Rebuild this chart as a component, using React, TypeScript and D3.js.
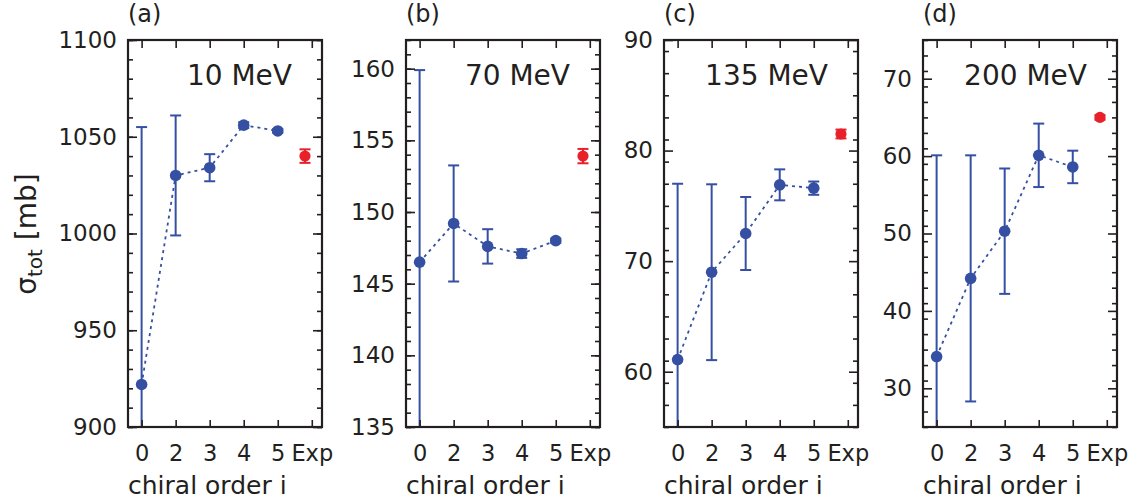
import React, { useEffect, useRef } from "react";
import * as d3 from "d3";

// chiral orders on the x axis, last slot is the experiment
const categories = ["0", "2", "3", "4", "5", "Exp"];
const panelTags = ["(a)", "(b)", "(c)", "(d)"];
const energies = ["10 MeV", "70 MeV", "135 MeV", "200 MeV"];

// total cross sections [mb] for orders 0,2,3,4,5
const sigma10 = [922, 1030, 1034, 1056, 1053];
const err10 = [133, 31, 7, 1.5, 1];
const sigma70 = [146.5, 149.2, 147.6, 147.1, 148.0];
const err70 = [13.4, 4.05, 1.2, 0.3, 0.15];
const sigma135 = [61.1, 69.0, 72.5, 76.9, 76.6];
const err135 = [15.9, 7.95, 3.3, 1.4, 0.6];
const sigma200 = [34.1, 44.2, 50.3, 60.1, 58.6];
const err200 = [26, 15.9, 8.1, 4.1, 2.1];

// experimental values
const expValues = [1040, 153.9, 81.5, 65.0];
const expErrors = [3.5, 0.5, 0.4, 0.3];

const yDomains = [
  [900, 1100],
  [135, 162],
  [55, 90],
  [25, 75],
];
const yMajor = [
  [900, 950, 1000, 1050, 1100],
  [135, 140, 145, 150, 155, 160],
  [60, 70, 80, 90],
  [30, 40, 50, 60, 70],
];
const yMinorStep = [10, 1, 2, 2];

const allSigma = [sigma10, sigma70, sigma135, sigma200];
const allErr = [err10, err70, err135, err200];

const App = () => {
  const ref = useRef<SVGSVGElement>(null);

  useEffect(() => {
    const width = 1139;
    const height = 501;
    const lefts = [128, 406, 664, 923];
    const panelW = 194;
    const top = 40;
    const bottom = 427;
    const blue = "#3550a2";
    const red = "#e8202a";
    const ink = "#231f20";
    const font = "DejaVu Sans, sans-serif";

    const svg = d3.select(ref.current).attr("width", width).attr("height", height);
    svg.selectAll("*").remove();

    // y axis title
    const yt = svg
      .append("text")
      .attr("transform", `translate(36, 234) rotate(-90)`)
      .attr("text-anchor", "middle")
      .attr("font-family", font)
      .attr("font-size", 28)
      .attr("fill", ink);
    yt.append("tspan").text("σ");
    yt.append("tspan").attr("font-size", 20).attr("dy", 6).text("tot");
    yt.append("tspan").attr("dy", -6).text(" [mb]");

    lefts.forEach((left, p) => {
      const x = d3.scaleLinear().domain([-0.4, 5.3]).range([left, left + panelW]);
      const y = d3.scaleLinear().domain(yDomains[p]).range([bottom, top]);
      const g = svg.append("g");

      const clipId = `clip-${p}`;
      g.append("clipPath")
        .attr("id", clipId)
        .append("rect")
        .attr("x", left)
        .attr("y", top)
        .attr("width", panelW)
        .attr("height", bottom - top);

      const pts = allSigma[p].map((v, i) => ({ i, v, e: allErr[p][i] }));
      const plot = g.append("g").attr("clip-path", `url(#${clipId})`);

      // dotted connecting line
      plot
        .append("path")
        .datum(pts)
        .attr("fill", "none")
        .attr("stroke", blue)
        .attr("stroke-width", 1.8)
        .attr("stroke-dasharray", "3,4")
        .attr(
          "d",
          d3
            .line<{ i: number; v: number }>()
            .x((d) => x(d.i))
            .y((d) => y(d.v))
        );

      const errBar = (cx: number, v: number, e: number, color: string) => {
        const eg = plot.append("g").attr("stroke", color).attr("stroke-width", 2);
        eg.append("line")
          .attr("x1", cx)
          .attr("x2", cx)
          .attr("y1", y(v - e))
          .attr("y2", y(v + e));
        [v - e, v + e].forEach((yy) => {
          eg.append("line")
            .attr("x1", cx - 5.5)
            .attr("x2", cx + 5.5)
            .attr("y1", y(yy))
            .attr("y2", y(yy));
        });
      };

      pts.forEach((d) => errBar(x(d.i), d.v, d.e, blue));
      plot
        .selectAll("circle.th")
        .data(pts)
        .join("circle")
        .attr("class", "th")
        .attr("cx", (d) => x(d.i))
        .attr("cy", (d) => y(d.v))
        .attr("r", 5.8)
        .attr("fill", blue);

      errBar(x(4.8), expValues[p], expErrors[p], red);
      plot
        .append("circle")
        .attr("cx", x(4.8))
        .attr("cy", y(expValues[p]))
        .attr("r", 5.6)
        .attr("fill", red);

      // axes, ticks pointing inward
      const minor = d3.range(yDomains[p][0], yDomains[p][1] + 1e-9, yMinorStep[p]);
      const styleAxis = (sel: any) => {
        sel.select(".domain").remove();
        sel.selectAll("line").attr("stroke", ink).attr("stroke-width", 1.6);
        sel.selectAll("text").attr("font-family", font).attr("fill", ink);
      };

      g.append("g")
        .attr("transform", `translate(${left},0)`)
        .call(d3.axisLeft(y).tickValues(minor).tickSize(-5).tickFormat(() => ""))
        .call(styleAxis);
      g.append("g")
        .attr("transform", `translate(${left},0)`)
        .call(d3.axisLeft(y).tickValues(yMajor[p]).tickSize(-9).tickPadding(11).tickFormat(d3.format("d")))
        .call(styleAxis)
        .call((s) => s.selectAll("text").attr("font-size", 23));
      g.append("g")
        .attr("transform", `translate(${left + panelW},0)`)
        .call(d3.axisRight(y).tickValues(minor).tickSize(-5).tickFormat(() => ""))
        .call(styleAxis);
      g.append("g")
        .attr("transform", `translate(${left + panelW},0)`)
        .call(d3.axisRight(y).tickValues(yMajor[p]).tickSize(-9).tickFormat(() => ""))
        .call(styleAxis);

      const idx = d3.range(categories.length);
      g.append("g")
        .attr("transform", `translate(0,${bottom})`)
        .call(
          d3
            .axisBottom(x)
            .tickValues(idx)
            .tickSize(-7)
            .tickPadding(18)
            .tickFormat((i) => categories[i as number])
        )
        .call(styleAxis)
        .call((s) => s.selectAll("text").attr("font-size", 22.5));
      g.append("g")
        .attr("transform", `translate(0,${top})`)
        .call(d3.axisTop(x).tickValues(idx).tickSize(-8).tickFormat(() => ""))
        .call(styleAxis);

      // frame
      g.append("rect")
        .attr("x", left)
        .attr("y", top)
        .attr("width", panelW)
        .attr("height", bottom - top)
        .attr("fill", "none")
        .attr("stroke", ink)
        .attr("stroke-width", 2.2);

      g.append("text")
        .attr("x", left)
        .attr("y", 22)
        .attr("font-family", font)
        .attr("font-size", 24)
        .attr("fill", ink)
        .text(panelTags[p]);

      g.append("text")
        .attr("x", left + panelW - 30)
        .attr("y", 85)
        .attr("text-anchor", "end")
        .attr("font-family", font)
        .attr("font-size", 28)
        .attr("fill", ink)
        .text(energies[p]);

      g.append("text")
        .attr("x", left)
        .attr("y", 494)
        .attr("font-family", font)
        .attr("font-size", 25)
        .attr("fill", ink)
        .text("chiral order i");
    });
  });

  return (
    <div>
      <svg ref={ref} style={{ position: "absolute", left: 0, top: 0 }}></svg>
    </div>
  );
};

export default App;
